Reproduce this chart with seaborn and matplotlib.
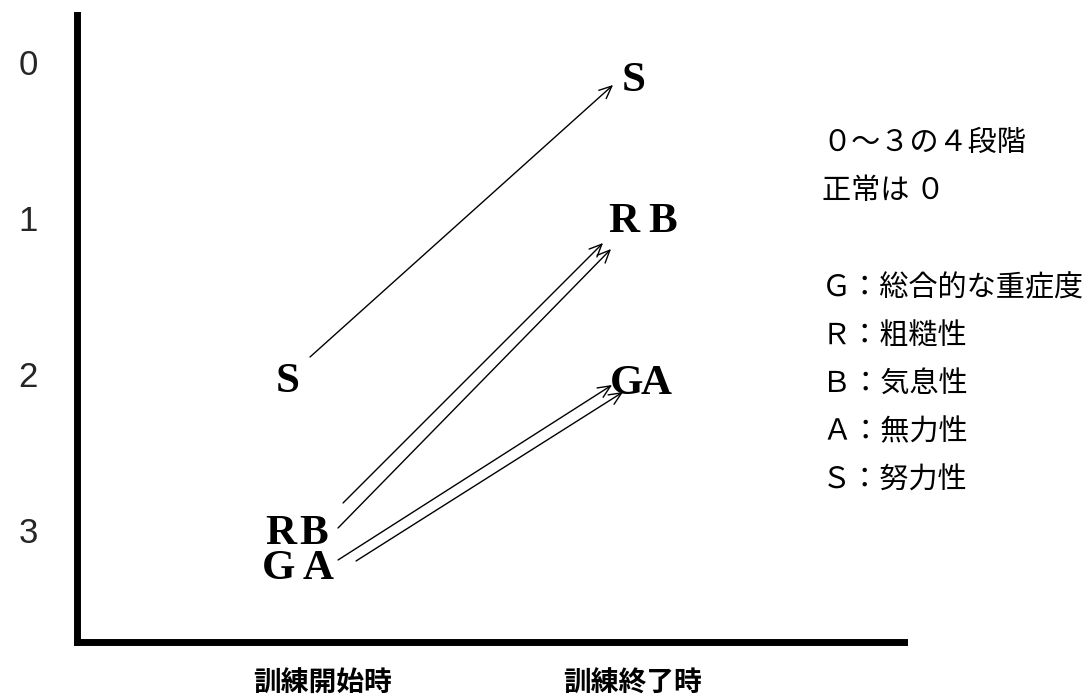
import matplotlib
matplotlib.use("Agg")
import matplotlib.pyplot as plt
import matplotlib.transforms as mtransforms
import pandas as pd
import seaborn as sns

# ── Data: GRBAS scores before / after training (0 = normal, 3 = severe) ──────
LETTERS     = ["G", "R", "B", "A", "S"]
SCORE_START = [3, 3, 3, 3, 2]
SCORE_END   = [2, 1, 1, 2, 0]

SCORE_TICKS = [0, 1, 2, 3]
TIME_LABELS = ["訓練開始時", "訓練終了時"]
NOTE_LINES  = ["０～３の４段階", "正常は ０", "",
               "Ｇ：総合的な重症度", "Ｒ：粗糙性", "Ｂ：気息性", "Ａ：無力性", "Ｓ：努力性"]

# ── Layout (pixels) ──────────────────────────────────────────────────────────
W, H, DPI = 1085, 698, 100
CAP_HALF  = 14
# offsets (dx, dy with dy pointing down) of each letter around its score anchor
LETTER_OFF_START = {"G": (-11, 35), "R": (-9, 0), "B": (24, 0), "A": (28, 35), "S": (-2, 4)}
LETTER_OFF_END   = {"G": (-14, 6), "R": (-16, 0), "B": (23, 0), "A": (16, 6), "S": (-6, 15)}
ARROW_TAIL = {"G": (48, 30), "R": (53, -27), "B": (48, -2), "A": (66, 31), "S": (20, -17)}
ARROW_HEAD = {"G": (-28, 11), "R": (-37, 25), "B": (-29, 31), "A": (-17, 18), "S": (-27, 23)}
TIME_LABEL_X, TIME_LABEL_Y = [323, 633], 684
NOTE_X, NOTE_Y0, NOTE_STEP = 822, 143, 48.3

sns.set_theme(style="white")
plt.rcParams["font.family"] = ["Noto Sans CJK JP", "DejaVu Sans"]

df = pd.DataFrame({"letter": LETTERS, "start": SCORE_START, "end": SCORE_END})

fig = plt.figure(figsize=(W / DPI, H / DPI), dpi=DPI)
ax = fig.add_axes([77 / W, 1 - 642 / H, (904 - 77) / W, (642 - 15) / H])
ax.set_xlim(-0.6086, 1.754)
ax.set_ylim(3.718, -0.301)

sns.despine(ax=ax)
for side in ["left", "bottom"]:
    ax.spines[side].set_linewidth(5.0)
    ax.spines[side].set_color("black")
    ax.spines[side].set_capstyle("projecting")

ax.set_xticks([])
ax.set_yticks(SCORE_TICKS)
ax.set_yticklabels([str(v) for v in SCORE_TICKS], family="Liberation Sans", fontsize=25)
ax.tick_params(axis="y", length=0, pad=28)


def px_shift(dx, dy):
    return mtransforms.offset_copy(ax.transData, fig=fig, x=dx, y=-dy, units="dots")


# letters at start (x=0) and end (x=1)
for _, row in df.iterrows():
    for t, col, offs in [(0, "start", LETTER_OFF_START), (1, "end", LETTER_OFF_END)]:
        dx, dy = offs[row.letter]
        ax.text(t, row[col], row.letter, transform=px_shift(dx, dy + CAP_HALF),
                ha="center", va="baseline", family="Liberation Serif",
                fontweight="bold", fontsize=31, color="black")

    # arrow from start score to end score
    ax.annotate("", xy=(1, row.end), xycoords=px_shift(*ARROW_HEAD[row.letter]),
                xytext=(0, row.start), textcoords=px_shift(*ARROW_TAIL[row.letter]),
                arrowprops=dict(arrowstyle="->,head_length=0.9,head_width=0.4",
                                lw=1.0, color="black", shrinkA=0, shrinkB=0,
                                mutation_scale=10))

# time labels under the axis
for label, x in zip(TIME_LABELS, TIME_LABEL_X):
    fig.text(x / W, 1 - TIME_LABEL_Y / H, label, ha="center", va="center",
             fontsize=20, fontweight="bold", color="black")

# notes on the right
for i, line in enumerate(NOTE_LINES):
    if line:
        fig.text(NOTE_X / W, 1 - (NOTE_Y0 + i * NOTE_STEP) / H, line,
                 ha="left", va="center", fontsize=21, color="black")

fig.savefig("out.png", dpi=DPI)
plt.close(fig)
